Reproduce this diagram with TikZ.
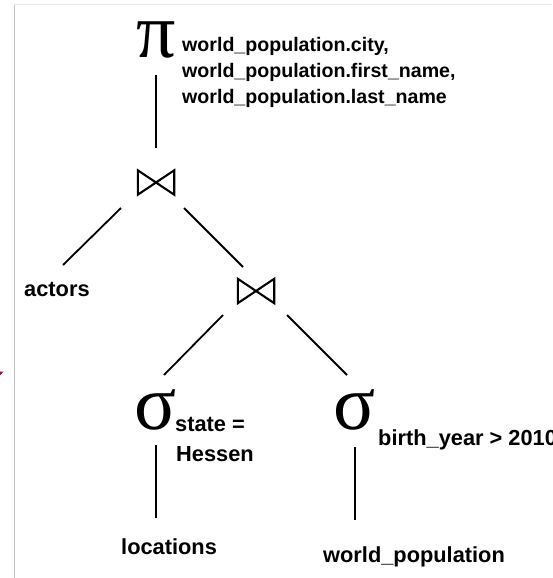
\documentclass[tikz,border=0pt]{standalone}
\usepackage{fontspec}
\setmainfont{Liberation Sans}
\newfontfamily\greekfont{Liberation Serif}
\usetikzlibrary{calc}
\definecolor{markred}{HTML}{B0003A}
\definecolor{frameA}{HTML}{C4C4C4}
\definecolor{frameB}{HTML}{E8E8E8}
\begin{document}
\begin{tikzpicture}[x=1pt,y=-1pt,
  edge/.style={line width=1.8pt},
  lbl/.style={inner sep=0pt, anchor=base west, font=\fontsize{21.8}{26}\selectfont\bfseries},
  toplbl/.style={inner sep=0pt, anchor=base west, font=\fontsize{19.6}{24}\selectfont\bfseries},
  op/.style={inner sep=0pt, font=\greekfont\fontsize{78}{78}\selectfont},
  joinbox/.style={inner sep=0pt, minimum width=36pt, minimum height=24pt},
  bowtie/.style={line width=2.1pt, line join=miter},
]
\useasboundingbox (0,0) rectangle (552,578);
% frame remnants
\draw[frameB, line width=1pt] (14,5) -- (552,5);
\draw[frameA, line width=1.3pt] (14.5,5) -- (14.5,578);
\fill[markred] (0,371.5) -- (3.5,371.5) -- (0,375.5) -- cycle;

% operators
\node[op] (pi) at (156,40) {π};
\node[joinbox] (j1) at (156,182.5) {};
\node[joinbox] (j2) at (256,291) {};
\node[op] (s1) at (156,410) {σ};
\node[op] (s2) at (355,410) {σ};
\draw[bowtie] (j1.north west) -- (j1.south west) -- (j1.north east) -- (j1.south east) -- cycle;
\draw[bowtie] (j2.north west) -- (j2.south west) -- (j2.north east) -- (j2.south east) -- cycle;

% labels
\node[toplbl] (p1) at (182,52) {world\_population.city,};
\node[toplbl] (p2) at (182,77.5) {world\_population.first\_name,};
\node[toplbl] (p3) at (182,103) {world\_population.last\_name};
\node[lbl] (actors) at (24,296) {actors};
\node[lbl] (c1a) at (175,431) {state =};
\node[lbl] (c1b) at (176,461) {Hessen};
\node[lbl] (c2) at (378,445) {birth\_year > 2010};
\node[lbl] (loc) at (121,554) {locations};
\node[lbl] (wp) at (323,562) {world\_population};

% connectors
\draw[edge, shorten <=35pt, shorten >=34.5pt] (pi.center) -- (j1.center);
\draw[edge] ($(j1.center)+(-35,25.5)$) -- ($(actors.base west)+(39,-31)$);
\draw[edge] ($(j1.center)+(28,25.5)$) -- ($(j2.center)+(-13,-24)$);
\draw[edge] ($(j2.center)+(-33,24)$) -- ($(s1.center)+(8,-35)$);
\draw[edge] ($(j2.center)+(31,24)$) -- ($(s2.center)+(-8,-35)$);
\draw[edge, shorten <=35pt, shorten >=36pt] (s1.center) -- (s1.center |- loc.base);
\draw[edge, shorten <=37pt, shorten >=42pt] (s2.center) -- (s2.center |- wp.base);
\end{tikzpicture}
\end{document}
